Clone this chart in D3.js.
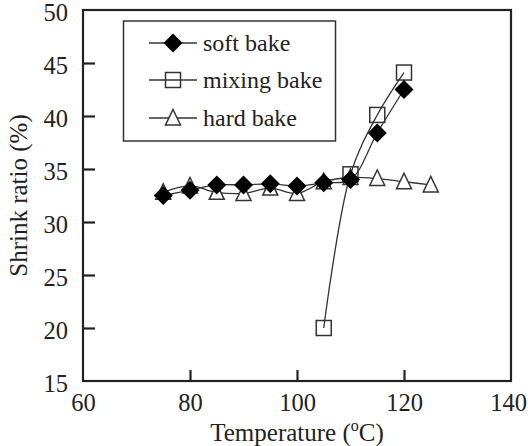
<!DOCTYPE html>
<html><head><meta charset="utf-8">
<script src="https://cdn.jsdelivr.net/npm/d3@7"></script>
<style>body{margin:0;background:#fff}svg{display:block}svg text,svg tspan{font-family:"Liberation Serif" !important}</style>
</head><body>
<script>
const temps = [75,80,85,90,95,100,105,110,115,120];
const softBake = [32.5,33.0,33.5,33.5,33.6,33.4,33.7,34.0,38.4,42.5];
const mixingTemps = [105,110,115,120];
const mixingBake = [20.0,34.5,40.1,44.1];
const hardTemps = [75,80,85,90,95,100,105,110,115,120,125];
const hardBake = [32.8,33.4,32.8,32.7,33.2,32.7,33.8,34.2,34.1,33.8,33.5];
const xTicks = [60,80,100,120,140];
const yTicks = [15,20,25,30,35,40,45,50];
const seriesNames = ["soft bake","mixing bake","hard bake"];

const W=528,H=446;
const m={l:83,r:17,t:10,b:65};
const svg=d3.select("body").append("svg").attr("width",W).attr("height",H).attr("font-family","Liberation Serif");
const x=d3.scaleLinear().domain([60,140]).range([m.l,W-m.r]);
const y=d3.scaleLinear().domain([15,50]).range([H-m.b,m.t]);
const ink="#222";

svg.append("rect").attr("x",x(60)).attr("y",y(50)).attr("width",x(140)-x(60)).attr("height",y(15)-y(50))
  .attr("fill","none").attr("stroke",ink).attr("stroke-width",2.2);

const xa=svg.append("g").attr("transform",`translate(0,${y(15)})`)
  .call(d3.axisBottom(x).tickValues(xTicks).tickSize(-11).tickPadding(13).tickFormat(d3.format("d")));
const ya=svg.append("g").attr("transform",`translate(${x(60)},0)`)
  .call(d3.axisLeft(y).tickValues(yTicks).tickSize(-12).tickPadding(15).tickFormat(d3.format("d")));
[xa,ya].forEach(a=>{a.attr("font-family","Liberation Serif").attr("font-size",24.5);
  a.select(".domain").remove();
  a.selectAll(".tick line").attr("stroke",ink).attr("stroke-width",2.2);
  a.selectAll(".tick text").attr("fill",ink);});
xa.selectAll(".tick line").filter(d=>d===60||d===140).remove();
xa.selectAll(".tick text").filter(d=>d===140).attr("dx",-3);
ya.selectAll(".tick line").filter(d=>d===15||d===50).remove();
ya.selectAll(".tick text").attr("dy","0.42em");

const xt=svg.append("text").attr("x",(x(60)+x(140))/2).attr("y",441).attr("text-anchor","middle").attr("font-size",25).attr("fill",ink);
xt.append("tspan").text("Temperature (");
xt.append("tspan").text("o").attr("font-size",16).attr("dy",-10);
xt.append("tspan").text("C)").attr("dy",10);
svg.append("text").attr("transform",`translate(27,${(y(15)+y(50))/2}) rotate(-90)`).attr("text-anchor","middle").attr("font-size",25).attr("fill",ink).text("Shrink ratio (%)");

const line=d3.line().x(d=>x(d[0])).y(d=>y(d[1])).curve(d3.curveCatmullRom.alpha(0.5));
const soft=temps.map((t,i)=>[t,softBake[i]]);
const mix=mixingTemps.map((t,i)=>[t,mixingBake[i]]);
const hard=hardTemps.map((t,i)=>[t,hardBake[i]]);
const g=svg.append("g");
[hard,mix,soft].forEach(s=>g.append("path").attr("d",line(s)).attr("fill","none").attr("stroke","#333").attr("stroke-width",1.3));

function tri(cx,cy,sel){sel.append("path").attr("d",`M${cx},${cy-8.5}L${cx+7.5},${cy+7}L${cx-7.5},${cy+7}Z`).attr("fill","#fff").attr("stroke","#333").attr("stroke-width",1.5);}
function sq(cx,cy,sel){sel.append("rect").attr("x",cx-7.5).attr("y",cy-7.5).attr("width",15).attr("height",15).attr("fill","none").attr("stroke","#333").attr("stroke-width",1.5);}
function dia(cx,cy,sel){sel.append("path").attr("d",`M${cx},${cy-9.5}L${cx+9.5},${cy}L${cx},${cy+9.5}L${cx-9.5},${cy}Z`).attr("fill","#000");}
hard.forEach(d=>tri(x(d[0]),y(d[1]),g));
mix.forEach(d=>sq(x(d[0]),y(d[1]),g));
soft.forEach(d=>dia(x(d[0]),y(d[1]),g));

const lg=svg.append("g");
lg.append("rect").attr("x",123.5).attr("y",21).attr("width",212).attr("height",120).attr("fill","#fff").attr("stroke","#333").attr("stroke-width",1.5);
const ly=[43,80,118];
const mk=[dia,sq,tri];
seriesNames.forEach((n,i)=>{
  lg.append("line").attr("x1",149).attr("x2",197).attr("y1",ly[i]).attr("y2",ly[i]).attr("stroke","#333").attr("stroke-width",1.3);
  mk[i](173,ly[i],lg);
  lg.append("text").attr("x",203).attr("y",ly[i]).attr("dy","0.32em").attr("font-size",24).attr("fill",ink).text(n);
});
</script>
</body></html>
